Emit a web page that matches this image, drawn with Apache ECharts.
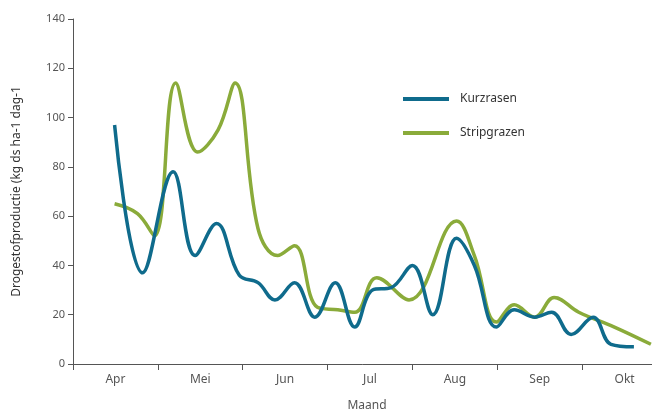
<!DOCTYPE html><html><head><meta charset="utf-8">
<script src="https://cdn.jsdelivr.net/npm/echarts@6/dist/echarts.min.js"></script>
<style>html,body{margin:0;padding:0;background:#fff}#c{width:652px;height:410px}</style></head><body>
<div id="c"></div>
<script>
var months = ['Apr','Mei','Jun','Jul','Aug','Sep','Okt'];
var yTicks = [0,20,40,60,80,100,120,140];
var kurzX = [0.49,0.82,1.18,1.44,1.69,1.96,2.18,2.38,2.61,2.85,3.09,3.32,3.53,3.75,4.0,4.24,4.52,4.73,4.99,5.2,5.44,5.64,5.87,6.13,6.34,6.61];
var kurzY = [97,37,78,44,57,36,33,26,33,19,33,15,30,31,40,20,51,40,15,22,19,21,12,19,8,7];
var stripX = [0.49,0.76,0.96,1.21,1.47,1.71,1.91,2.18,2.41,2.61,2.88,3.12,3.32,3.58,3.96,4.52,4.73,4.99,5.2,5.44,5.67,5.96,6.38,6.81];
var stripY = [65,61,52,114,86,95,114,55,44,48,23,22,21,35,26,58,44,17,24,19,27,21,15,8];
function zip(a,b){return a.map(function(v,i){return [v,b[i]];});}
var grey='#555';
var chart = echarts.init(document.getElementById('c'));
chart.setOption({
  animation:false,
  grid:{left:73,top:19,width:594,height:345,outerBoundsMode:'none',containLabel:false},
  legend:{orient:'vertical',left:398,top:88,itemGap:22,itemWidth:46,itemHeight:4,icon:'rect',
    textStyle:{color:'#333',fontSize:12,fontFamily:'Noto Sans',padding:[0,0,0,6]},
    data:['Kurzrasen','Stripgrazen']},
  xAxis:[
    {type:'value',min:0,max:7,interval:1,axisLabel:{show:false},axisTick:{show:true,length:6,lineStyle:{color:grey}},
     axisLine:{lineStyle:{color:grey}},splitLine:{show:false},
     name:'Maand',nameLocation:'middle',nameGap:36,nameTextStyle:{color:grey,fontSize:12,fontFamily:'Noto Sans',padding:[0,6,0,0]}},
    {type:'category',data:months,position:'bottom',axisLine:{show:false},axisTick:{show:false},
     axisLabel:{color:grey,fontSize:12,fontFamily:'Noto Sans',margin:10}}
  ],
  yAxis:{type:'value',min:0,max:140,interval:20,
    axisLine:{show:true,lineStyle:{color:grey}},axisTick:{show:true,length:5,lineStyle:{color:grey}},
    splitLine:{show:false},axisLabel:{color:grey,fontSize:11,fontFamily:'Noto Sans',margin:8,
      formatter:function(v){return yTicks.indexOf(v)>=0?String(v):'';}},
    name:'Drogestofproductie (kg ds ha-1 dag-1',nameLocation:'middle',nameGap:50,nameRotate:90,
    nameTextStyle:{color:'#333',fontSize:12,fontFamily:'Noto Sans'}},
  series:[
    {name:'Stripgrazen',type:'line',smooth:0.4,showSymbol:false,xAxisIndex:0,z:2,
     data:zip(stripX,stripY),lineStyle:{color:'#8aab3a',width:3.5},itemStyle:{color:'#8aab3a'}},
    {name:'Kurzrasen',type:'line',smooth:0.4,showSymbol:false,xAxisIndex:0,z:3,
     data:zip(kurzX,kurzY),lineStyle:{color:'#0f6b8c',width:3.5},itemStyle:{color:'#0f6b8c'}}
  ]
});
</script></body></html>
